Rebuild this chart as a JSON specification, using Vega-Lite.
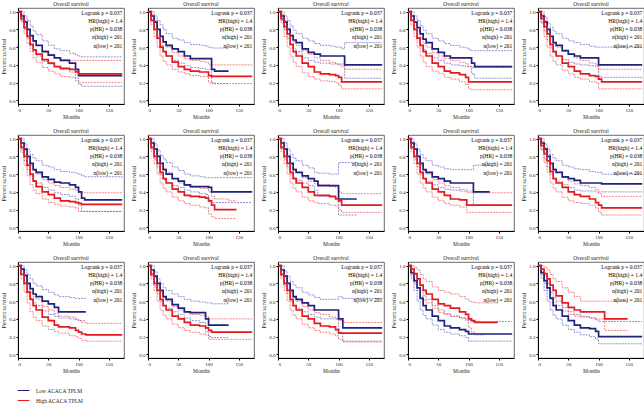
{
"$schema": "https://vega.github.io/schema/vega-lite/v6.json",
"padding": {"left": 1, "top": 1, "right": 0, "bottom": 0},
"background": "white",
"data": {"values": [
{"p":1,"t":0,"lo":1,"hi":1,"loU":1,"loL":1,"hiU":1,"hiL":1},
{"p":1,"t":5,"lo":0.95,"hi":0.92,"loU":1,"loL":0.9,"hiU":0.97,"hiL":0.88},
{"p":1,"t":10,"lo":0.88,"hi":0.82,"loU":0.95,"loL":0.8,"hiU":0.9,"hiL":0.75},
{"p":1,"t":15,"lo":0.8,"hi":0.72,"loU":0.9,"loL":0.7,"hiU":0.8,"hiL":0.64},
{"p":1,"t":20,"lo":0.73,"hi":0.63,"loU":0.84,"loL":0.62,"hiU":0.72,"hiL":0.55},
{"p":1,"t":25,"lo":0.67,"hi":0.57,"loU":0.78,"loL":0.55,"hiU":0.66,"hiL":0.48},
{"p":1,"t":30,"lo":0.62,"hi":0.52,"loU":0.74,"loL":0.5,"hiU":0.62,"hiL":0.43},
{"p":1,"t":40,"lo":0.55,"hi":0.46,"loU":0.67,"loL":0.44,"hiU":0.56,"hiL":0.37},
{"p":1,"t":50,"lo":0.51,"hi":0.42,"loU":0.62,"loL":0.41,"hiU":0.52,"hiL":0.33},
{"p":1,"t":60,"lo":0.48,"hi":0.38,"loU":0.58,"loL":0.38,"hiU":0.48,"hiL":0.3},
{"p":1,"t":70,"lo":0.45,"hi":0.36,"loU":0.56,"loL":0.35,"hiU":0.46,"hiL":0.27},
{"p":1,"t":85,"lo":0.42,"hi":0.35,"loU":0.53,"loL":0.32,"hiU":0.45,"hiL":0.26},
{"p":1,"t":95,"lo":0.35,"hi":0.32,"loU":0.51,"loL":0.25,"hiU":0.45,"hiL":0.22},
{"p":1,"t":100,"lo":0.28,"hi":0.3,"loU":0.5,"loL":0.18,"hiU":0.45,"hiL":0.2},
{"p":1,"t":105,"lo":0.28,"hi":0.3,"loU":0.49,"loL":0.16,"hiU":0.45,"hiL":0.2},
{"p":1,"t":172,"lo":0.28,"hi":0.3,"loU":0.49,"loL":0.16,"hiU":0.45,"hiL":0.2},

{"p":2,"t":0,"lo":1,"hi":1,"loU":1,"loL":1,"hiU":1,"hiL":1},
{"p":2,"t":5,"lo":0.95,"hi":0.9,"loU":1,"loL":0.9,"hiU":0.97,"hiL":0.85},
{"p":2,"t":10,"lo":0.88,"hi":0.8,"loU":0.95,"loL":0.8,"hiU":0.9,"hiL":0.72},
{"p":2,"t":15,"lo":0.8,"hi":0.7,"loU":0.9,"loL":0.7,"hiU":0.8,"hiL":0.6},
{"p":2,"t":20,"lo":0.72,"hi":0.6,"loU":0.85,"loL":0.62,"hiU":0.72,"hiL":0.5},
{"p":2,"t":25,"lo":0.66,"hi":0.55,"loU":0.8,"loL":0.55,"hiU":0.65,"hiL":0.44},
{"p":2,"t":30,"lo":0.62,"hi":0.5,"loU":0.75,"loL":0.5,"hiU":0.6,"hiL":0.4},
{"p":2,"t":40,"lo":0.58,"hi":0.43,"loU":0.7,"loL":0.45,"hiU":0.54,"hiL":0.35},
{"p":2,"t":50,"lo":0.55,"hi":0.38,"loU":0.68,"loL":0.42,"hiU":0.5,"hiL":0.32},
{"p":2,"t":60,"lo":0.5,"hi":0.35,"loU":0.65,"loL":0.39,"hiU":0.47,"hiL":0.3},
{"p":2,"t":70,"lo":0.47,"hi":0.33,"loU":0.63,"loL":0.37,"hiU":0.45,"hiL":0.28},
{"p":2,"t":85,"lo":0.47,"hi":0.32,"loU":0.62,"loL":0.36,"hiU":0.44,"hiL":0.27},
{"p":2,"t":95,"lo":0.47,"hi":0.32,"loU":0.61,"loL":0.35,"hiU":0.43,"hiL":0.27},
{"p":2,"t":100,"lo":0.47,"hi":0.28,"loU":0.6,"loL":0.35,"hiU":0.4,"hiL":0.2},
{"p":2,"t":105,"lo":0.35,"hi":0.27,"loU":0.59,"loL":0.2,"hiU":0.4,"hiL":0.19},
{"p":2,"t":110,"lo":0.33,"hi":0.27,"loU":0.59,"loL":0.19,"hiU":0.4,"hiL":0.19},
{"p":2,"t":133,"lo":0.33,"hi":0.27,"loU":0.59,"loL":0.19,"hiU":0.4,"hiL":0.19},
{"p":2,"t":172,"lo":null,"hi":0.27,"loU":null,"loL":null,"hiU":0.4,"hiL":0.19},

{"p":3,"t":0,"lo":1,"hi":1,"loU":1,"loL":1,"hiU":1,"hiL":1},
{"p":3,"t":5,"lo":0.95,"hi":0.92,"loU":1,"loL":0.9,"hiU":0.97,"hiL":0.87},
{"p":3,"t":10,"lo":0.88,"hi":0.83,"loU":0.95,"loL":0.8,"hiU":0.9,"hiL":0.72},
{"p":3,"t":15,"lo":0.8,"hi":0.75,"loU":0.9,"loL":0.7,"hiU":0.82,"hiL":0.6},
{"p":3,"t":20,"lo":0.73,"hi":0.63,"loU":0.84,"loL":0.62,"hiU":0.72,"hiL":0.5},
{"p":3,"t":25,"lo":0.68,"hi":0.55,"loU":0.79,"loL":0.58,"hiU":0.66,"hiL":0.43},
{"p":3,"t":30,"lo":0.65,"hi":0.5,"loU":0.75,"loL":0.55,"hiU":0.62,"hiL":0.38},
{"p":3,"t":40,"lo":0.58,"hi":0.42,"loU":0.7,"loL":0.48,"hiU":0.56,"hiL":0.31},
{"p":3,"t":50,"lo":0.54,"hi":0.38,"loU":0.67,"loL":0.45,"hiU":0.52,"hiL":0.27},
{"p":3,"t":60,"lo":0.52,"hi":0.32,"loU":0.64,"loL":0.43,"hiU":0.48,"hiL":0.24},
{"p":3,"t":70,"lo":0.5,"hi":0.3,"loU":0.62,"loL":0.42,"hiU":0.45,"hiL":0.22},
{"p":3,"t":85,"lo":0.5,"hi":0.29,"loU":0.61,"loL":0.41,"hiU":0.43,"hiL":0.21},
{"p":3,"t":95,"lo":0.5,"hi":0.28,"loU":0.6,"loL":0.41,"hiU":0.41,"hiL":0.2},
{"p":3,"t":100,"lo":0.5,"hi":0.26,"loU":0.6,"loL":0.41,"hiU":0.4,"hiL":0.17},
{"p":3,"t":105,"lo":0.5,"hi":0.21,"loU":0.58,"loL":0.41,"hiU":0.38,"hiL":0.13},
{"p":3,"t":110,"lo":0.4,"hi":0.21,"loU":0.65,"loL":0.25,"hiU":0.35,"hiL":0.13},
{"p":3,"t":172,"lo":0.4,"hi":0.21,"loU":0.65,"loL":0.25,"hiU":0.35,"hiL":0.13},

{"p":4,"t":0,"lo":1,"hi":1,"loU":1,"loL":1,"hiU":1,"hiL":1},
{"p":4,"t":5,"lo":0.95,"hi":0.9,"loU":1,"loL":0.9,"hiU":0.96,"hiL":0.85},
{"p":4,"t":10,"lo":0.88,"hi":0.8,"loU":0.95,"loL":0.8,"hiU":0.88,"hiL":0.72},
{"p":4,"t":15,"lo":0.82,"hi":0.7,"loU":0.9,"loL":0.7,"hiU":0.78,"hiL":0.6},
{"p":4,"t":20,"lo":0.75,"hi":0.62,"loU":0.84,"loL":0.62,"hiU":0.7,"hiL":0.5},
{"p":4,"t":25,"lo":0.69,"hi":0.55,"loU":0.79,"loL":0.57,"hiU":0.64,"hiL":0.43},
{"p":4,"t":30,"lo":0.65,"hi":0.5,"loU":0.75,"loL":0.53,"hiU":0.6,"hiL":0.38},
{"p":4,"t":40,"lo":0.58,"hi":0.42,"loU":0.7,"loL":0.48,"hiU":0.54,"hiL":0.33},
{"p":4,"t":50,"lo":0.54,"hi":0.38,"loU":0.67,"loL":0.45,"hiU":0.5,"hiL":0.3},
{"p":4,"t":60,"lo":0.5,"hi":0.33,"loU":0.64,"loL":0.42,"hiU":0.47,"hiL":0.26},
{"p":4,"t":70,"lo":0.48,"hi":0.31,"loU":0.62,"loL":0.4,"hiU":0.45,"hiL":0.24},
{"p":4,"t":85,"lo":0.48,"hi":0.29,"loU":0.6,"loL":0.39,"hiU":0.43,"hiL":0.21},
{"p":4,"t":95,"lo":0.48,"hi":0.26,"loU":0.59,"loL":0.38,"hiU":0.41,"hiL":0.18},
{"p":4,"t":100,"lo":0.48,"hi":0.21,"loU":0.57,"loL":0.38,"hiU":0.38,"hiL":0.13},
{"p":4,"t":105,"lo":0.42,"hi":0.21,"loU":0.56,"loL":0.3,"hiU":0.37,"hiL":0.12},
{"p":4,"t":110,"lo":0.38,"hi":0.21,"loU":0.56,"loL":0.25,"hiU":0.37,"hiL":0.12},
{"p":4,"t":172,"lo":0.38,"hi":0.21,"loU":0.56,"loL":0.25,"hiU":0.37,"hiL":0.12},

{"p":5,"t":0,"lo":1,"hi":1,"loU":1,"loL":1,"hiU":1,"hiL":1},
{"p":5,"t":5,"lo":0.95,"hi":0.92,"loU":1,"loL":0.88,"hiU":0.97,"hiL":0.87},
{"p":5,"t":10,"lo":0.88,"hi":0.83,"loU":0.94,"loL":0.78,"hiU":0.9,"hiL":0.72},
{"p":5,"t":15,"lo":0.8,"hi":0.75,"loU":0.87,"loL":0.68,"hiU":0.8,"hiL":0.6},
{"p":5,"t":20,"lo":0.72,"hi":0.63,"loU":0.82,"loL":0.6,"hiU":0.72,"hiL":0.5},
{"p":5,"t":25,"lo":0.65,"hi":0.55,"loU":0.78,"loL":0.54,"hiU":0.65,"hiL":0.44},
{"p":5,"t":30,"lo":0.62,"hi":0.5,"loU":0.75,"loL":0.5,"hiU":0.6,"hiL":0.4},
{"p":5,"t":40,"lo":0.56,"hi":0.42,"loU":0.7,"loL":0.46,"hiU":0.55,"hiL":0.34},
{"p":5,"t":50,"lo":0.52,"hi":0.38,"loU":0.67,"loL":0.43,"hiU":0.52,"hiL":0.3},
{"p":5,"t":60,"lo":0.5,"hi":0.33,"loU":0.65,"loL":0.41,"hiU":0.48,"hiL":0.26},
{"p":5,"t":70,"lo":0.48,"hi":0.3,"loU":0.63,"loL":0.4,"hiU":0.45,"hiL":0.24},
{"p":5,"t":85,"lo":0.48,"hi":0.28,"loU":0.61,"loL":0.39,"hiU":0.42,"hiL":0.21},
{"p":5,"t":95,"lo":0.48,"hi":0.27,"loU":0.6,"loL":0.38,"hiU":0.4,"hiL":0.2},
{"p":5,"t":100,"lo":0.4,"hi":0.24,"loU":0.6,"loL":0.27,"hiU":0.35,"hiL":0.13},
{"p":5,"t":105,"lo":0.4,"hi":0.21,"loU":0.6,"loL":0.26,"hiU":0.35,"hiL":0.13},
{"p":5,"t":172,"lo":0.4,"hi":0.21,"loU":0.6,"loL":0.26,"hiU":0.35,"hiL":0.13},

{"p":6,"t":0,"lo":1,"hi":1,"loU":1,"loL":1,"hiU":1,"hiL":1},
{"p":6,"t":5,"lo":0.95,"hi":0.9,"loU":1,"loL":0.87,"hiU":0.95,"hiL":0.84},
{"p":6,"t":10,"lo":0.88,"hi":0.8,"loU":0.94,"loL":0.75,"hiU":0.87,"hiL":0.7},
{"p":6,"t":15,"lo":0.8,"hi":0.7,"loU":0.88,"loL":0.65,"hiU":0.78,"hiL":0.58},
{"p":6,"t":20,"lo":0.72,"hi":0.6,"loU":0.82,"loL":0.58,"hiU":0.7,"hiL":0.48},
{"p":6,"t":25,"lo":0.65,"hi":0.52,"loU":0.78,"loL":0.53,"hiU":0.64,"hiL":0.42},
{"p":6,"t":30,"lo":0.62,"hi":0.46,"loU":0.75,"loL":0.5,"hiU":0.6,"hiL":0.38},
{"p":6,"t":40,"lo":0.57,"hi":0.4,"loU":0.7,"loL":0.45,"hiU":0.54,"hiL":0.32},
{"p":6,"t":50,"lo":0.54,"hi":0.37,"loU":0.68,"loL":0.42,"hiU":0.5,"hiL":0.28},
{"p":6,"t":60,"lo":0.51,"hi":0.33,"loU":0.65,"loL":0.39,"hiU":0.47,"hiL":0.26},
{"p":6,"t":70,"lo":0.5,"hi":0.3,"loU":0.63,"loL":0.37,"hiU":0.45,"hiL":0.24},
{"p":6,"t":85,"lo":0.48,"hi":0.29,"loU":0.62,"loL":0.35,"hiU":0.43,"hiL":0.23},
{"p":6,"t":95,"lo":0.45,"hi":0.28,"loU":0.61,"loL":0.32,"hiU":0.42,"hiL":0.22},
{"p":6,"t":100,"lo":0.4,"hi":0.27,"loU":0.6,"loL":0.25,"hiU":0.39,"hiL":0.18},
{"p":6,"t":105,"lo":0.33,"hi":0.26,"loU":0.58,"loL":0.18,"hiU":0.39,"hiL":0.18},
{"p":6,"t":110,"lo":0.31,"hi":0.26,"loU":0.57,"loL":0.18,"hiU":0.39,"hiL":0.18},
{"p":6,"t":172,"lo":0.31,"hi":0.26,"loU":0.56,"loL":0.18,"hiU":0.39,"hiL":0.18},

{"p":7,"t":0,"lo":1,"hi":1,"loU":1,"loL":1,"hiU":1,"hiL":1},
{"p":7,"t":5,"lo":0.95,"hi":0.9,"loU":1,"loL":0.88,"hiU":0.96,"hiL":0.85},
{"p":7,"t":10,"lo":0.88,"hi":0.8,"loU":0.94,"loL":0.77,"hiU":0.88,"hiL":0.72},
{"p":7,"t":15,"lo":0.8,"hi":0.72,"loU":0.87,"loL":0.68,"hiU":0.8,"hiL":0.6},
{"p":7,"t":20,"lo":0.72,"hi":0.62,"loU":0.81,"loL":0.6,"hiU":0.72,"hiL":0.5},
{"p":7,"t":25,"lo":0.65,"hi":0.55,"loU":0.77,"loL":0.54,"hiU":0.66,"hiL":0.44},
{"p":7,"t":30,"lo":0.6,"hi":0.5,"loU":0.73,"loL":0.5,"hiU":0.62,"hiL":0.4},
{"p":7,"t":40,"lo":0.55,"hi":0.43,"loU":0.68,"loL":0.47,"hiU":0.55,"hiL":0.34},
{"p":7,"t":50,"lo":0.52,"hi":0.4,"loU":0.64,"loL":0.45,"hiU":0.5,"hiL":0.3},
{"p":7,"t":60,"lo":0.48,"hi":0.36,"loU":0.6,"loL":0.42,"hiU":0.47,"hiL":0.27},
{"p":7,"t":70,"lo":0.46,"hi":0.35,"loU":0.58,"loL":0.4,"hiU":0.45,"hiL":0.25},
{"p":7,"t":85,"lo":0.46,"hi":0.34,"loU":0.57,"loL":0.38,"hiU":0.44,"hiL":0.23},
{"p":7,"t":95,"lo":0.46,"hi":0.33,"loU":0.56,"loL":0.37,"hiU":0.44,"hiL":0.22},
{"p":7,"t":100,"lo":0.45,"hi":0.3,"loU":0.56,"loL":0.3,"hiU":0.4,"hiL":0.15},
{"p":7,"t":105,"lo":0.4,"hi":0.25,"loU":0.56,"loL":0.28,"hiU":0.35,"hiL":0.12},
{"p":7,"t":110,"lo":0.4,"hi":0.2,"loU":0.56,"loL":0.28,"hiU":0.32,"hiL":0.1},
{"p":7,"t":133,"lo":0.4,"hi":0.2,"loU":0.56,"loL":0.28,"hiU":0.3,"hiL":0.1},
{"p":7,"t":146,"lo":0.4,"hi":0.2,"loU":0.56,"loL":0.28,"hiU":0.3,"hiL":0.1},
{"p":7,"t":172,"lo":0.4,"hi":null,"loU":0.56,"loL":0.28,"hiU":null,"hiL":null},

{"p":8,"t":0,"lo":1,"hi":1,"loU":1,"loL":1,"hiU":1,"hiL":1},
{"p":8,"t":5,"lo":0.95,"hi":0.9,"loU":1,"loL":0.88,"hiU":0.96,"hiL":0.85},
{"p":8,"t":10,"lo":0.88,"hi":0.8,"loU":0.95,"loL":0.77,"hiU":0.88,"hiL":0.72},
{"p":8,"t":15,"lo":0.8,"hi":0.72,"loU":0.88,"loL":0.68,"hiU":0.8,"hiL":0.6},
{"p":8,"t":20,"lo":0.72,"hi":0.62,"loU":0.82,"loL":0.6,"hiU":0.72,"hiL":0.5},
{"p":8,"t":25,"lo":0.65,"hi":0.55,"loU":0.78,"loL":0.56,"hiU":0.66,"hiL":0.44},
{"p":8,"t":30,"lo":0.62,"hi":0.5,"loU":0.75,"loL":0.53,"hiU":0.62,"hiL":0.4},
{"p":8,"t":40,"lo":0.58,"hi":0.45,"loU":0.7,"loL":0.5,"hiU":0.56,"hiL":0.34},
{"p":8,"t":50,"lo":0.55,"hi":0.4,"loU":0.67,"loL":0.47,"hiU":0.52,"hiL":0.3},
{"p":8,"t":60,"lo":0.52,"hi":0.36,"loU":0.62,"loL":0.42,"hiU":0.49,"hiL":0.28},
{"p":8,"t":66,"lo":0.47,"hi":0.36,"loU":0.61,"loL":0.35,"hiU":0.48,"hiL":0.27},
{"p":8,"t":85,"lo":0.47,"hi":0.35,"loU":0.6,"loL":0.34,"hiU":0.46,"hiL":0.25},
{"p":8,"t":95,"lo":0.47,"hi":0.32,"loU":0.6,"loL":0.33,"hiU":0.45,"hiL":0.24},
{"p":8,"t":100,"lo":0.32,"hi":0.3,"loU":0.73,"loL":0.14,"hiU":0.4,"hiL":0.2},
{"p":8,"t":105,"lo":0.32,"hi":0.25,"loU":0.73,"loL":0.14,"hiU":0.38,"hiL":0.17},
{"p":8,"t":130,"lo":0.32,"hi":0.25,"loU":0.73,"loL":0.14,"hiU":0.38,"hiL":0.17},
{"p":8,"t":172,"lo":null,"hi":0.25,"loU":null,"loL":null,"hiU":0.38,"hiL":0.17},

{"p":9,"t":0,"lo":1,"hi":1,"loU":1,"loL":1,"hiU":1,"hiL":1},
{"p":9,"t":5,"lo":0.95,"hi":0.9,"loU":1,"loL":0.88,"hiU":0.96,"hiL":0.85},
{"p":9,"t":10,"lo":0.88,"hi":0.8,"loU":0.94,"loL":0.77,"hiU":0.88,"hiL":0.72},
{"p":9,"t":15,"lo":0.8,"hi":0.72,"loU":0.88,"loL":0.68,"hiU":0.8,"hiL":0.6},
{"p":9,"t":20,"lo":0.72,"hi":0.62,"loU":0.82,"loL":0.6,"hiU":0.7,"hiL":0.5},
{"p":9,"t":25,"lo":0.65,"hi":0.55,"loU":0.78,"loL":0.55,"hiU":0.64,"hiL":0.44},
{"p":9,"t":30,"lo":0.62,"hi":0.5,"loU":0.75,"loL":0.52,"hiU":0.6,"hiL":0.4},
{"p":9,"t":40,"lo":0.57,"hi":0.43,"loU":0.7,"loL":0.48,"hiU":0.54,"hiL":0.34},
{"p":9,"t":50,"lo":0.55,"hi":0.4,"loU":0.68,"loL":0.45,"hiU":0.5,"hiL":0.3},
{"p":9,"t":60,"lo":0.52,"hi":0.36,"loU":0.66,"loL":0.43,"hiU":0.47,"hiL":0.27},
{"p":9,"t":70,"lo":0.5,"hi":0.32,"loU":0.65,"loL":0.42,"hiU":0.45,"hiL":0.25},
{"p":9,"t":85,"lo":0.5,"hi":0.31,"loU":0.65,"loL":0.41,"hiU":0.43,"hiL":0.23},
{"p":9,"t":97,"lo":0.5,"hi":0.25,"loU":0.65,"loL":0.41,"hiU":0.39,"hiL":0.17},
{"p":9,"t":108,"lo":0.4,"hi":0.25,"loU":0.7,"loL":0.25,"hiU":0.39,"hiL":0.17},
{"p":9,"t":135,"lo":0.4,"hi":0.25,"loU":0.7,"loL":0.25,"hiU":0.39,"hiL":0.17},
{"p":9,"t":172,"lo":null,"hi":0.25,"loU":null,"loL":null,"hiU":0.39,"hiL":0.17},

{"p":10,"t":0,"lo":1,"hi":1,"loU":1,"loL":1,"hiU":1,"hiL":1},
{"p":10,"t":5,"lo":0.95,"hi":0.92,"loU":1,"loL":0.88,"hiU":0.97,"hiL":0.87},
{"p":10,"t":10,"lo":0.88,"hi":0.83,"loU":0.94,"loL":0.77,"hiU":0.9,"hiL":0.73},
{"p":10,"t":15,"lo":0.8,"hi":0.75,"loU":0.88,"loL":0.68,"hiU":0.82,"hiL":0.62},
{"p":10,"t":20,"lo":0.72,"hi":0.63,"loU":0.82,"loL":0.6,"hiU":0.72,"hiL":0.5},
{"p":10,"t":25,"lo":0.65,"hi":0.55,"loU":0.78,"loL":0.55,"hiU":0.66,"hiL":0.44},
{"p":10,"t":30,"lo":0.62,"hi":0.5,"loU":0.75,"loL":0.52,"hiU":0.62,"hiL":0.4},
{"p":10,"t":40,"lo":0.57,"hi":0.45,"loU":0.7,"loL":0.48,"hiU":0.56,"hiL":0.34},
{"p":10,"t":50,"lo":0.55,"hi":0.4,"loU":0.68,"loL":0.45,"hiU":0.52,"hiL":0.3},
{"p":10,"t":60,"lo":0.53,"hi":0.37,"loU":0.66,"loL":0.42,"hiU":0.49,"hiL":0.28},
{"p":10,"t":70,"lo":0.5,"hi":0.35,"loU":0.65,"loL":0.41,"hiU":0.47,"hiL":0.27},
{"p":10,"t":85,"lo":0.5,"hi":0.32,"loU":0.63,"loL":0.41,"hiU":0.45,"hiL":0.25},
{"p":10,"t":95,"lo":0.5,"hi":0.28,"loU":0.62,"loL":0.4,"hiU":0.43,"hiL":0.22},
{"p":10,"t":100,"lo":0.5,"hi":0.25,"loU":0.62,"loL":0.4,"hiU":0.38,"hiL":0.17},
{"p":10,"t":105,"lo":0.49,"hi":0.22,"loU":0.6,"loL":0.4,"hiU":0.35,"hiL":0.14},
{"p":10,"t":172,"lo":0.49,"hi":0.22,"loU":0.6,"loL":0.4,"hiU":0.35,"hiL":0.14},

{"p":11,"t":0,"lo":1,"hi":1,"loU":1,"loL":1,"hiU":1,"hiL":1},
{"p":11,"t":5,"lo":0.96,"hi":0.9,"loU":1,"loL":0.9,"hiU":0.96,"hiL":0.85},
{"p":11,"t":10,"lo":0.89,"hi":0.8,"loU":0.95,"loL":0.8,"hiU":0.88,"hiL":0.7},
{"p":11,"t":15,"lo":0.8,"hi":0.7,"loU":0.9,"loL":0.7,"hiU":0.78,"hiL":0.58},
{"p":11,"t":20,"lo":0.74,"hi":0.62,"loU":0.85,"loL":0.63,"hiU":0.7,"hiL":0.48},
{"p":11,"t":25,"lo":0.68,"hi":0.55,"loU":0.8,"loL":0.58,"hiU":0.65,"hiL":0.42},
{"p":11,"t":30,"lo":0.65,"hi":0.5,"loU":0.77,"loL":0.55,"hiU":0.62,"hiL":0.38},
{"p":11,"t":40,"lo":0.6,"hi":0.42,"loU":0.73,"loL":0.49,"hiU":0.54,"hiL":0.32},
{"p":11,"t":50,"lo":0.57,"hi":0.38,"loU":0.7,"loL":0.45,"hiU":0.5,"hiL":0.28},
{"p":11,"t":60,"lo":0.53,"hi":0.33,"loU":0.67,"loL":0.43,"hiU":0.46,"hiL":0.26},
{"p":11,"t":67,"lo":0.48,"hi":0.31,"loU":0.65,"loL":0.41,"hiU":0.43,"hiL":0.24},
{"p":11,"t":85,"lo":0.48,"hi":0.3,"loU":0.64,"loL":0.4,"hiU":0.42,"hiL":0.21},
{"p":11,"t":95,"lo":0.48,"hi":0.27,"loU":0.63,"loL":0.39,"hiU":0.4,"hiL":0.2},
{"p":11,"t":100,"lo":0.48,"hi":0.25,"loU":0.63,"loL":0.38,"hiU":0.38,"hiL":0.18},
{"p":11,"t":105,"lo":0.48,"hi":0.23,"loU":0.63,"loL":0.38,"hiU":0.36,"hiL":0.16},
{"p":11,"t":112,"lo":0.48,"hi":0.22,"loU":0.63,"loL":0.38,"hiU":0.35,"hiL":0.15},
{"p":11,"t":172,"lo":null,"hi":0.22,"loU":null,"loL":null,"hiU":0.35,"hiL":0.15},

{"p":12,"t":0,"lo":1,"hi":1,"loU":1,"loL":1,"hiU":1,"hiL":1},
{"p":12,"t":5,"lo":0.95,"hi":0.9,"loU":1,"loL":0.88,"hiU":0.95,"hiL":0.85},
{"p":12,"t":10,"lo":0.88,"hi":0.8,"loU":0.93,"loL":0.77,"hiU":0.87,"hiL":0.72},
{"p":12,"t":15,"lo":0.8,"hi":0.72,"loU":0.85,"loL":0.68,"hiU":0.78,"hiL":0.6},
{"p":12,"t":20,"lo":0.72,"hi":0.62,"loU":0.8,"loL":0.6,"hiU":0.7,"hiL":0.5},
{"p":12,"t":25,"lo":0.65,"hi":0.55,"loU":0.75,"loL":0.55,"hiU":0.64,"hiL":0.44},
{"p":12,"t":30,"lo":0.62,"hi":0.5,"loU":0.72,"loL":0.52,"hiU":0.6,"hiL":0.4},
{"p":12,"t":40,"lo":0.56,"hi":0.43,"loU":0.68,"loL":0.48,"hiU":0.54,"hiL":0.34},
{"p":12,"t":50,"lo":0.52,"hi":0.4,"loU":0.65,"loL":0.45,"hiU":0.5,"hiL":0.3},
{"p":12,"t":60,"lo":0.48,"hi":0.36,"loU":0.62,"loL":0.41,"hiU":0.47,"hiL":0.27},
{"p":12,"t":70,"lo":0.47,"hi":0.33,"loU":0.6,"loL":0.38,"hiU":0.45,"hiL":0.25},
{"p":12,"t":85,"lo":0.47,"hi":0.32,"loU":0.59,"loL":0.36,"hiU":0.44,"hiL":0.23},
{"p":12,"t":95,"lo":0.4,"hi":0.3,"loU":0.58,"loL":0.25,"hiU":0.43,"hiL":0.22},
{"p":12,"t":100,"lo":0.33,"hi":0.27,"loU":0.58,"loL":0.2,"hiU":0.4,"hiL":0.17},
{"p":12,"t":105,"lo":0.33,"hi":0.25,"loU":0.57,"loL":0.19,"hiU":0.4,"hiL":0.17},
{"p":12,"t":133,"lo":0.33,"hi":0.25,"loU":0.57,"loL":0.19,"hiU":0.4,"hiL":0.17},
{"p":12,"t":172,"lo":null,"hi":0.25,"loU":null,"loL":null,"hiU":0.4,"hiL":0.17},

{"p":13,"t":0,"lo":1,"hi":1,"loU":1,"loL":1,"hiU":1,"hiL":1},
{"p":13,"t":5,"lo":0.95,"hi":0.9,"loU":1,"loL":0.88,"hiU":0.96,"hiL":0.85},
{"p":13,"t":10,"lo":0.88,"hi":0.8,"loU":0.94,"loL":0.77,"hiU":0.88,"hiL":0.72},
{"p":13,"t":15,"lo":0.8,"hi":0.72,"loU":0.88,"loL":0.68,"hiU":0.8,"hiL":0.6},
{"p":13,"t":20,"lo":0.72,"hi":0.62,"loU":0.82,"loL":0.6,"hiU":0.7,"hiL":0.5},
{"p":13,"t":25,"lo":0.65,"hi":0.55,"loU":0.78,"loL":0.55,"hiU":0.64,"hiL":0.44},
{"p":13,"t":30,"lo":0.62,"hi":0.5,"loU":0.75,"loL":0.52,"hiU":0.6,"hiL":0.4},
{"p":13,"t":40,"lo":0.58,"hi":0.43,"loU":0.7,"loL":0.48,"hiU":0.54,"hiL":0.34},
{"p":13,"t":50,"lo":0.55,"hi":0.4,"loU":0.67,"loL":0.45,"hiU":0.5,"hiL":0.3},
{"p":13,"t":60,"lo":0.5,"hi":0.35,"loU":0.64,"loL":0.42,"hiU":0.47,"hiL":0.27},
{"p":13,"t":70,"lo":0.5,"hi":0.32,"loU":0.62,"loL":0.4,"hiU":0.45,"hiL":0.25},
{"p":13,"t":85,"lo":0.5,"hi":0.31,"loU":0.62,"loL":0.4,"hiU":0.42,"hiL":0.23},
{"p":13,"t":95,"lo":0.5,"hi":0.28,"loU":0.62,"loL":0.4,"hiU":0.4,"hiL":0.21},
{"p":13,"t":100,"lo":0.4,"hi":0.24,"loU":0.65,"loL":0.25,"hiU":0.38,"hiL":0.17},
{"p":13,"t":107,"lo":0.3,"hi":0.24,"loU":0.63,"loL":0.15,"hiU":0.36,"hiL":0.14},
{"p":13,"t":172,"lo":0.3,"hi":0.24,"loU":0.62,"loL":0.15,"hiU":0.36,"hiL":0.14},

{"p":14,"t":0,"lo":1,"hi":1,"loU":1,"loL":1,"hiU":1,"hiL":1},
{"p":14,"t":5,"lo":0.92,"hi":0.96,"loU":0.97,"loL":0.86,"hiU":1,"hiL":0.9},
{"p":14,"t":10,"lo":0.83,"hi":0.91,"loU":0.9,"loL":0.72,"hiU":0.98,"hiL":0.8},
{"p":14,"t":15,"lo":0.75,"hi":0.85,"loU":0.82,"loL":0.6,"hiU":0.95,"hiL":0.72},
{"p":14,"t":20,"lo":0.63,"hi":0.78,"loU":0.72,"loL":0.5,"hiU":0.9,"hiL":0.65},
{"p":14,"t":25,"lo":0.55,"hi":0.72,"loU":0.66,"loL":0.44,"hiU":0.85,"hiL":0.61},
{"p":14,"t":30,"lo":0.5,"hi":0.68,"loU":0.62,"loL":0.4,"hiU":0.82,"hiL":0.58},
{"p":14,"t":40,"lo":0.43,"hi":0.62,"loU":0.55,"loL":0.33,"hiU":0.76,"hiL":0.52},
{"p":14,"t":50,"lo":0.38,"hi":0.57,"loU":0.5,"loL":0.28,"hiU":0.72,"hiL":0.47},
{"p":14,"t":60,"lo":0.32,"hi":0.55,"loU":0.46,"loL":0.25,"hiU":0.7,"hiL":0.45},
{"p":14,"t":70,"lo":0.3,"hi":0.52,"loU":0.43,"loL":0.23,"hiU":0.68,"hiL":0.43},
{"p":14,"t":85,"lo":0.28,"hi":0.48,"loU":0.41,"loL":0.21,"hiU":0.65,"hiL":0.41},
{"p":14,"t":95,"lo":0.26,"hi":0.45,"loU":0.4,"loL":0.19,"hiU":0.62,"hiL":0.38},
{"p":14,"t":100,"lo":0.23,"hi":0.4,"loU":0.38,"loL":0.15,"hiU":0.6,"hiL":0.3},
{"p":14,"t":105,"lo":0.23,"hi":0.38,"loU":0.37,"loL":0.15,"hiU":0.59,"hiL":0.25},
{"p":14,"t":110,"lo":0.23,"hi":0.36,"loU":0.37,"loL":0.15,"hiU":0.58,"hiL":0.22},
{"p":14,"t":125,"lo":0.23,"hi":0.36,"loU":0.37,"loL":0.15,"hiU":0.58,"hiL":0.22},
{"p":14,"t":148,"lo":0.23,"hi":0.36,"loU":0.37,"loL":0.15,"hiU":0.58,"hiL":null},
{"p":14,"t":172,"lo":0.23,"hi":null,"loU":0.37,"loL":0.15,"hiU":null,"hiL":null},

{"p":15,"t":0,"lo":1,"hi":1,"loU":1,"loL":1,"hiU":1,"hiL":1},
{"p":15,"t":5,"lo":0.92,"hi":0.96,"loU":0.96,"loL":0.86,"hiU":1,"hiL":0.9},
{"p":15,"t":10,"lo":0.83,"hi":0.91,"loU":0.88,"loL":0.72,"hiU":0.98,"hiL":0.8},
{"p":15,"t":15,"lo":0.75,"hi":0.85,"loU":0.8,"loL":0.6,"hiU":0.95,"hiL":0.72},
{"p":15,"t":20,"lo":0.63,"hi":0.78,"loU":0.7,"loL":0.5,"hiU":0.9,"hiL":0.64},
{"p":15,"t":25,"lo":0.55,"hi":0.72,"loU":0.64,"loL":0.44,"hiU":0.85,"hiL":0.59},
{"p":15,"t":30,"lo":0.5,"hi":0.66,"loU":0.6,"loL":0.4,"hiU":0.82,"hiL":0.55},
{"p":15,"t":40,"lo":0.43,"hi":0.58,"loU":0.53,"loL":0.33,"hiU":0.75,"hiL":0.49},
{"p":15,"t":50,"lo":0.38,"hi":0.53,"loU":0.48,"loL":0.28,"hiU":0.7,"hiL":0.45},
{"p":15,"t":60,"lo":0.33,"hi":0.5,"loU":0.45,"loL":0.25,"hiU":0.65,"hiL":0.43},
{"p":15,"t":70,"lo":0.3,"hi":0.48,"loU":0.43,"loL":0.22,"hiU":0.6,"hiL":0.42},
{"p":15,"t":85,"lo":0.29,"hi":0.48,"loU":0.41,"loL":0.2,"hiU":0.6,"hiL":0.41},
{"p":15,"t":95,"lo":0.26,"hi":0.48,"loU":0.39,"loL":0.17,"hiU":0.6,"hiL":0.4},
{"p":15,"t":100,"lo":0.2,"hi":0.48,"loU":0.37,"loL":0.12,"hiU":0.6,"hiL":0.4},
{"p":15,"t":110,"lo":0.2,"hi":0.4,"loU":0.37,"loL":0.12,"hiU":0.6,"hiL":0.27},
{"p":15,"t":148,"lo":0.2,"hi":0.4,"loU":0.37,"loL":0.12,"hiU":0.6,"hiL":0.27},
{"p":15,"t":172,"lo":0.2,"hi":null,"loU":0.37,"loL":0.12,"hiU":null,"hiL":null}
]},
"facet": {"field": "p", "type": "ordinal", "header": {"title": null, "labelExpr": "'Overall survival'", "labelFont": "Liberation Serif", "labelFontSize": 5.5, "labelPadding": 1, "labelColor": "#222"}},
"columns": 5,
"spacing": {"row": 31, "column": 24},
"bounds": "flush",
"resolve": {"axis": {"x": "independent", "y": "independent"}},
"spec": {
  "width": 106,
  "height": 96,
  "encoding": {
    "x": {"field": "t", "type": "quantitative", "scale": {"domain": [0, 175], "nice": false},
          "axis": {"title": "Months", "values": [0, 50, 100, 150], "format": "d"}},
    "y": {"field": "v", "type": "quantitative", "scale": {"domain": [-0.04, 1.04], "nice": false},
          "axis": {"title": "Percent survival", "values": [0, 0.2, 0.4, 0.6, 0.8, 1], "format": ".1f"}}
  },
  "layer": [
    {"transform": [{"fold": ["loU", "loL"], "as": ["k", "v"]}],
     "mark": {"type": "line", "interpolate": "step-after", "strokeWidth": 0.6, "strokeDash": [2, 1], "color": "#4a4ab8"},
     "encoding": {"detail": {"field": "k"}}},
    {"transform": [{"fold": ["hiU", "hiL"], "as": ["k", "v"]}],
     "mark": {"type": "line", "interpolate": "step-after", "strokeWidth": 0.6, "strokeDash": [2, 1], "color": "#f03434"},
     "encoding": {"detail": {"field": "k"}}},
    {"transform": [{"fold": ["lo", "hi"], "as": ["k", "v"]}],
     "mark": {"type": "line", "interpolate": "step-after", "strokeWidth": 1.7},
     "encoding": {"color": {"field": "k", "type": "nominal",
        "scale": {"domain": ["lo", "hi"], "range": ["#1d237e", "#e41a1c"]},
        "legend": {"orient": "none", "legendX": -1, "legendY": 376, "title": null, "symbolType": "stroke", "symbolSize": 140, "symbolStrokeWidth": 1, "labelFont": "Liberation Serif", "labelFontSize": 5.5, "labelColor": "#222", "rowPadding": 0, "labelOffset": 6, "labelExpr": "datum.label == 'lo' ? 'Low ACACA TPLM' : 'High ACACA TPLM'"}}}},
    {"mark": {"type": "text", "align": "right", "baseline": "top", "dy": -1, "font": "Liberation Serif", "fontSize": 5.5, "lineHeight": 8.3, "color": "#000",
              "text": ["Logrank p = 0.037", "HR(high) = 1.4", "p(HR) = 0.038", "n(high) = 201", "n(low) = 201"]},
     "encoding": {"x": {"aggregate": "max", "field": "t", "type": "quantitative"},
                  "y": {"aggregate": "max", "field": "hi", "type": "quantitative"}}}
  ]
},
"config": {
  "view": {"stroke": "#444", "strokeWidth": 0.8},
  "axis": {"labelFont": "Liberation Serif", "titleFont": "Liberation Serif", "labelFontSize": 5, "titleFontSize": 5.5, "titleFontWeight": "normal", "domainColor": "#000", "tickColor": "#000", "tickSize": 2, "labelPadding": 1, "titlePadding": 2, "grid": false, "labelColor": "#222", "titleColor": "#222"}
}
}
